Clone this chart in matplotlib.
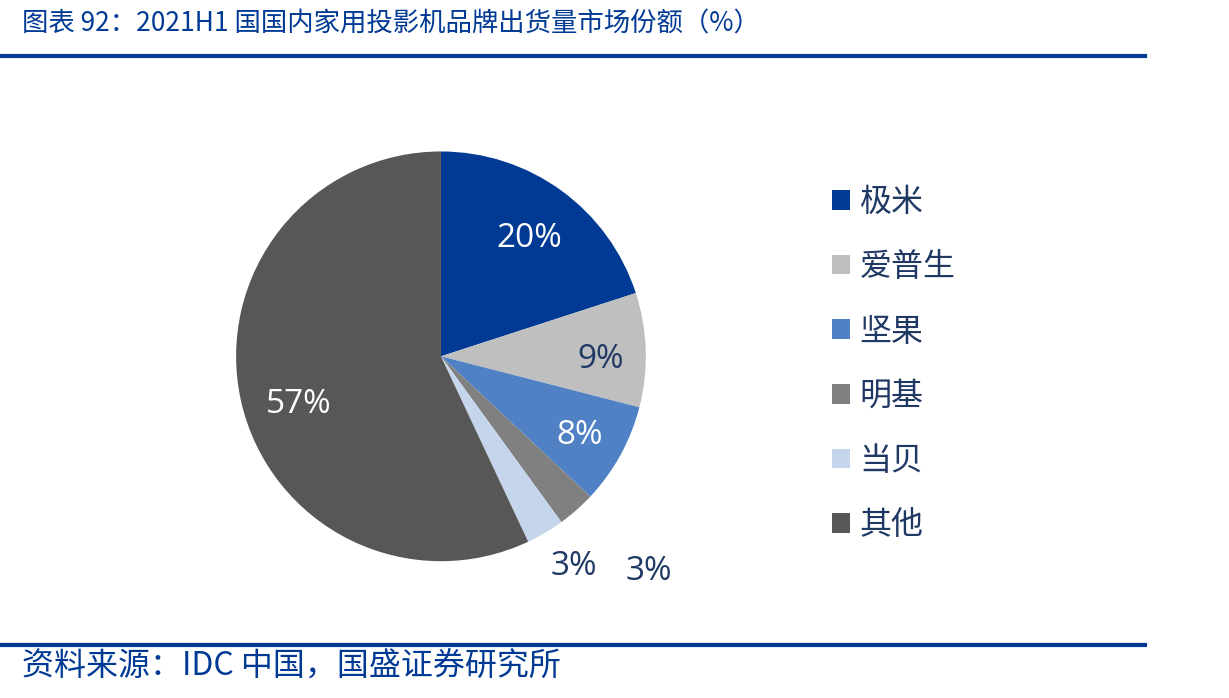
import numpy as np
import matplotlib.pyplot as plt
from matplotlib.lines import Line2D
from matplotlib.patches import Patch

plt.rcParams['font.family'] = ['Noto Sans CJK SC', 'DejaVu Sans']

# данные
brands = ['极米', '爱普生', '坚果', '明基', '当贝', '其他']
shares = [20, 9, 8, 3, 3, 57]
colors = ['#003A94', '#BFBFBF', '#4F81C4', '#808080', '#C5D5EC', '#575757']
label_colors = ['white', '#1F3864', 'white', '#1F3864', '#1F3864', 'white']
label_dist = [0.73, 0.78, 0.77, 1.45, 1.2, 0.73]
label_shift = [0, -2, 0, 3, 2, 5]  # градусы

title = '图表 92：2021H1 国国内家用投影机品牌出货量市场份额（%）'
source = '资料来源：IDC 中国，国盛证券研究所'
blue = '#003A94'

fig = plt.figure(figsize=(12.29, 6.98), dpi=100)
ax = fig.add_axes([0.192, 0.196, 0.3336, 0.587])

wedges, _ = ax.pie(shares, colors=colors, startangle=90, counterclock=False,
                   radius=1, wedgeprops=dict(linewidth=0))
ax.set_xlim(-1, 1)
ax.set_ylim(-1, 1)
ax.set_aspect('equal')

for w, v, c, d, s in zip(wedges, shares, label_colors, label_dist, label_shift):
    ang = np.deg2rad((w.theta1 + w.theta2) / 2 + s)
    ax.text(d * np.cos(ang), d * np.sin(ang) - 0.015, f'{v}%', color=c,
            ha='center', va='center', fontsize=24, family=['Open Sans', 'DejaVu Sans'],
            clip_on=False)

handles = [Patch(facecolor=c, edgecolor='none') for c in colors]
leg = fig.legend(handles, brands, loc='upper left', bbox_to_anchor=(0.677, 0.733),
                 frameon=False, fontsize=23, handlelength=0.565, handleheight=0.565,
                 handletextpad=0.3, labelspacing=1.02, borderpad=0, borderaxespad=0)
for t in leg.get_texts():
    t.set_color('#1F3864')

fig.text(0.018, 0.965, title, color=blue, fontsize=19, ha='left', va='center')
fig.text(0.018, 0.045, source, color=blue, fontsize=23, ha='left', va='center')

fig.add_artist(Line2D([0, 0.932], [0.92, 0.92], color=blue, lw=3))
fig.add_artist(Line2D([0, 0.932], [0.076, 0.076], color=blue, lw=3))

plt.savefig('out.png', dpi=100)
